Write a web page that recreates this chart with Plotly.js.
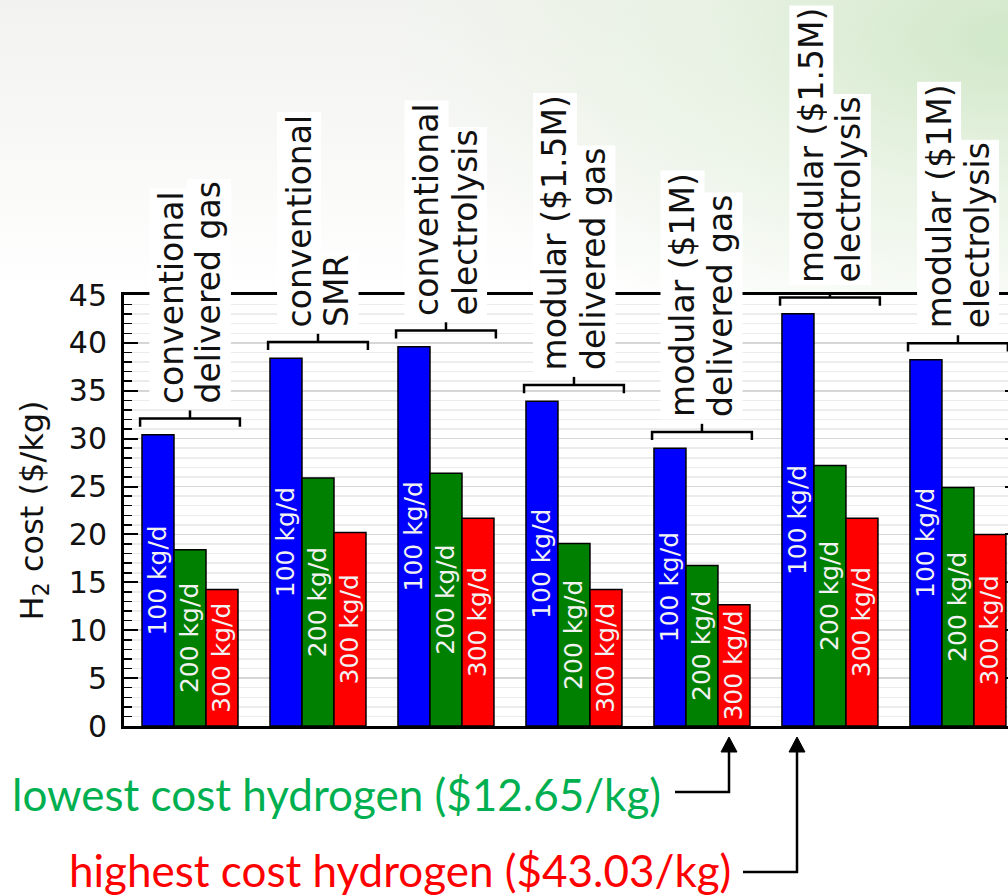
<!DOCTYPE html>
<html>
<head>
<meta charset="utf-8">
<script src="https://cdn.plot.ly/plotly-3.0.1.min.js"></script>
<style>
html, body { margin: 0; padding: 0; overflow: hidden; width: 1008px; height: 896px; }
body {
  background:
    radial-gradient(ellipse 620px 330px at 1010px 40px, rgba(200,229,190,0.8) 0%, rgba(222,239,214,0.55) 45%, rgba(255,255,255,0) 100%),
    linear-gradient(to bottom, #f2f3f0 0px, #f9f9f8 160px, #ffffff 300px);
}
#chart { width: 1040px; height: 896px; }
</style>
</head>
<body>
<div id="chart"></div>
<script>
// ---- data ----
const groupLine1 = ['conventional', 'conventional', 'conventional', 'modular ($1.5M)', 'modular ($1M)', 'modular ($1.5M)', 'modular ($1M)'];
const groupLine2 = ['delivered gas', 'SMR', 'electrolysis', 'delivered gas', 'delivered gas', 'electrolysis', 'electrolysis'];
const seriesNames = ['100 kg/d', '200 kg/d', '300 kg/d'];
const cost100 = [30.4, 38.4, 39.6, 33.9, 29.0, 43.03, 38.25];
const cost200 = [18.4, 25.9, 26.4, 19.05, 16.75, 27.2, 24.9];
const cost300 = [14.25, 20.2, 21.7, 14.25, 12.65, 21.7, 20.0];
const yTickVals = [0, 5, 10, 15, 20, 25, 30, 35, 40, 45];
const lowestText = 'lowest cost hydrogen ($12.65/kg)';
const highestText = 'highest cost hydrogen ($43.03/kg)';

// ---- styles ----
const seriesColors = ['#0000ff', '#008000', '#ff0000'];
const FONT = 'DejaVu Sans';
const X0 = -0.5156, X1 = 6.477;
const PL = 124, PW = 895, PT = 295, PH = 431;
const xp = px => (px - PL) / PW;
const yp = py => (PT + PH - py) / PH;

const idx = groupLine1.map((_, i) => i);
const traces = [cost100, cost200, cost300].map((vals, k) => ({
  type: 'bar',
  x: idx,
  y: vals,
  name: seriesNames[k],
  marker: { color: seriesColors[k], line: { color: '#000', width: 1.5 } },
  text: vals.map(() => seriesNames[k]),
  textposition: 'inside',
  insidetextanchor: 'middle',
  textangle: -90,
  constraintext: 'none',
  textfont: { family: FONT, size: 25, color: '#f2f2f2' },
  hoverinfo: 'skip'
}));

// brackets above each group
const BRK = 1.7, HW = 0.39, TK = 0.85;
const bx = [], by = [];
cost100.forEach((v, i) => {
  const b = v + BRK;
  bx.push(i - HW, i - HW, i + HW, i + HW, null, i, i, null);
  by.push(b - TK, b, b, b - TK, null, b, b + TK, null);
});
traces.push({
  type: 'scatter', mode: 'lines', x: bx, y: by,
  line: { color: '#000', width: 2.5 }, showlegend: false, hoverinfo: 'skip', cliponaxis: false
});

const annotations = [];
annotations.push({
  xref: 'paper', yref: 'paper', x: xp(33), y: 0.5, xanchor: 'center', yanchor: 'middle',
  text: 'H<sub>2</sub> cost ($/kg)', textangle: -90, showarrow: false,
  font: { family: FONT, size: 32, color: '#111' }
});
cost100.forEach((v, i) => {
  [groupLine1[i], groupLine2[i]].forEach((t, j) => {
    annotations.push({
      xref: 'x', yref: 'y', x: i, y: v + BRK, xanchor: 'center', yanchor: 'bottom',
      xshift: j === 0 ? -19 : 19, yshift: 12,
      text: t, textangle: -90, showarrow: false, bgcolor: '#ffffff', borderpad: 2,
      font: { family: FONT, size: 33, color: '#111' }
    });
  });
});
annotations.push({
  xref: 'paper', yref: 'paper', x: xp(10), y: yp(794), xanchor: 'left', yanchor: 'middle',
  text: lowestText, showarrow: false, font: { family: 'Lato', size: 44, color: '#00b050' }
});
annotations.push({
  xref: 'paper', yref: 'paper', x: xp(67), y: yp(870), xanchor: 'left', yanchor: 'middle',
  text: highestText, showarrow: false, font: { family: 'Lato', size: 44, color: '#ff0000' }
});

// arrows
const shapes = [];
function arrow(xStart, yLine, xTip) {
  shapes.push({
    type: 'path', xref: 'paper', yref: 'paper',
    path: `M ${xp(xStart)},${yp(yLine)} L ${xp(xTip)},${yp(yLine)} L ${xp(xTip)},${yp(750)}`,
    line: { color: '#000', width: 2.5 }
  });
  shapes.push({
    type: 'path', xref: 'paper', yref: 'paper',
    path: `M ${xp(xTip - 8)},${yp(752)} L ${xp(xTip + 8)},${yp(752)} L ${xp(xTip)},${yp(737)} Z`,
    fillcolor: '#000', line: { color: '#000', width: 1 }
  });
}
arrow(675, 792, 729);
arrow(743, 872, 797);

const layout = {
  width: 1040, height: 896,
  margin: { l: PL, r: 1040 - PL - PW, t: PT, b: 896 - PT - PH },
  paper_bgcolor: 'rgba(0,0,0,0)',
  plot_bgcolor: '#ffffff',
  barmode: 'group', bargap: 0.25, bargroupgap: 0,
  showlegend: false,
  xaxis: {
    range: [X0, X1], showticklabels: false, ticks: '', showgrid: false, zeroline: false,
    showline: true, linecolor: '#000', linewidth: 3, mirror: true, fixedrange: true
  },
  yaxis: {
    range: [0, 45], tickvals: yTickVals, ticks: 'inside', ticklen: 14, tickwidth: 2, tickcolor: '#000',
    showline: true, linecolor: '#000', linewidth: 3, mirror: 'ticks',
    showgrid: true, gridcolor: '#d6d6d6', gridwidth: 1.5, zeroline: false,
    tickfont: { family: FONT, size: 30, color: '#111' }, ticklabelstandoff: 8,
    minor: { dtick: 1, ticks: 'inside', ticklen: 8, tickwidth: 1.5, tickcolor: '#000',
             showgrid: true, gridcolor: '#ececec', gridwidth: 1.5 },
    fixedrange: true
  },
  annotations: annotations,
  shapes: shapes
};

Plotly.newPlot('chart', traces, layout, { displayModeBar: false, staticPlot: true });
</script>
</body>
</html>
